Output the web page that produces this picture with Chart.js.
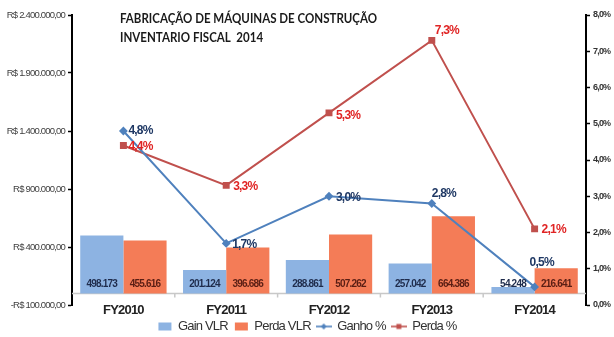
<!DOCTYPE html>
<html>
<head>
<meta charset="utf-8">
<script src="https://cdn.jsdelivr.net/npm/chart.js@4.4.1/dist/chart.umd.min.js"></script>
<style>
  html, body { margin: 0; padding: 0; background: #fff; }
  #wrap { position: relative; width: 614px; height: 337px; }
</style>
</head>
<body>
<div id="wrap"><canvas id="chart"></canvas></div>
<script>
const categories = ['FY2010', 'FY2011', 'FY2012', 'FY2013', 'FY2014'];
const gainVlr = [498173, 201124, 288861, 257042, 54248];
const perdaVlr = [455616, 396686, 507262, 664386, 216641];
const ganhoPct = [4.8, 1.7, 3.0, 2.8, 0.5];
const perdaPct = [4.4, 3.3, 5.3, 7.3, 2.1];
const seriesNames = ['Gain VLR', 'Perda VLR', 'Ganho %', 'Perda %'];
const titleLines = ['FABRICAÇÃO DE MÁQUINAS DE CONSTRUÇÃO', 'INVENTARIO FISCAL  2014'];

const FONT = "'Liberation Sans', Arial, sans-serif";
const BLUE_BAR = '#8db3e2';
const ORANGE_BAR = '#f47c57';
const BLUE_LINE = '#4f81bd';
const RED_LINE = '#c0504d';
const TIGHT = '-0.8px'; // squeeze letters to get a narrow look

// thousands with dots, decimals with comma
function fmtInt(n) {
    return String(Math.abs(Math.round(n))).replace(/\B(?=(\d{3})+(?!\d))/g, '.');
}
function fmtMoney(v) {
    return (v < 0 ? '-' : '') + 'R$ ' + fmtInt(v) + ',00';
}
function fmtPct(v) {
    return v.toFixed(1).replace('.', ',') + '%';
}

// small legend icons: filled box for bars, line with marker for lines
function legendIcon(kind, color) {
    const c = document.createElement('canvas');
    c.width = 16; c.height = 10;
    const g = c.getContext('2d');
    g.fillStyle = color;
    g.strokeStyle = color;
    if (kind === 'box') {
        g.fillRect(2, 1, 13, 8);
    } else {
        g.lineWidth = 1.6;
        g.beginPath(); g.moveTo(0, 5); g.lineTo(16, 5); g.stroke();
        g.beginPath();
        if (kind === 'diamond') {
            g.moveTo(8, 2); g.lineTo(11, 5); g.lineTo(8, 8); g.lineTo(5, 5);
        } else {
            g.rect(5.5, 2.5, 5, 5);
        }
        g.closePath(); g.fill();
    }
    return c;
}
const icons = [
    legendIcon('box', BLUE_BAR),
    legendIcon('box', ORANGE_BAR),
    legendIcon('diamond', BLUE_LINE),
    legendIcon('square', RED_LINE)
];

// tighter letter spacing for all chart text (set again after every resize)
const tightText = {
    id: 'tightText',
    beforeUpdate(chart) { chart.ctx.letterSpacing = TIGHT; },
    beforeDraw(chart) { chart.ctx.letterSpacing = TIGHT; }
};

// gray baseline at zero with separators between categories
const zeroLine = {
    id: 'zeroLine',
    beforeDatasetsDraw(chart) {
        const {ctx, chartArea, scales: {x, y}} = chart;
        const y0 = Math.round(y.getPixelForValue(0)) + 0.5;
        ctx.save();
        ctx.strokeStyle = '#c8c8c8';
        ctx.lineWidth = 1.5;
        ctx.beginPath();
        ctx.moveTo(chartArea.left, y0);
        ctx.lineTo(chartArea.right, y0);
        for (let i = 1; i < categories.length; i++) {
            const bx = (x.getPixelForTick(i - 1) + x.getPixelForTick(i)) / 2;
            ctx.moveTo(bx, y0);
            ctx.lineTo(bx, y0 + 4);
        }
        ctx.stroke();
        ctx.restore();
    }
};

// value labels for bars (bottom of bar) and for the percentage lines
const valueLabels = {
    id: 'valueLabels',
    afterDatasetsDraw(chart, args, opts) {
        const {ctx, scales: {y}} = chart;
        const base = y.getPixelForValue(0);
        ctx.save();
        ctx.textBaseline = 'middle';
        chart.data.datasets.forEach((ds, di) => {
            const meta = chart.getDatasetMeta(di);
            if (ds.type === 'bar') {
                ctx.font = 'bold 10px ' + FONT;
                ctx.textAlign = 'center';
                ctx.fillStyle = ds.labelColor;
                meta.data.forEach((el, i) => {
                    ctx.fillText(fmtInt(ds.data[i]), el.x, base - 9);
                });
            } else {
                const offs = opts.offsets[di];
                ctx.font = 'bold 12px ' + FONT;
                ctx.textAlign = 'left';
                ctx.fillStyle = ds.labelColor;
                meta.data.forEach((el, i) => {
                    ctx.fillText(fmtPct(ds.data[i]), el.x + offs[i][0], el.y + offs[i][1]);
                });
            }
        });
        ctx.restore();
    }
};

// two-line heading inside the plot
const heading = {
    id: 'heading',
    afterDraw(chart) {
        const ctx = chart.ctx;
        ctx.save();
        ctx.letterSpacing = '0px';
        ctx.font = "bold 14px Lato, 'Open Sans', sans-serif";
        ctx.fillStyle = '#1a1a1a';
        ctx.textBaseline = 'middle';
        ctx.textAlign = 'left';
        const sx = 257 / ctx.measureText(titleLines[0]).width;
        [18, 37].forEach((ty, i) => {
            ctx.save();
            ctx.translate(120, ty);
            ctx.scale(sx, 1);
            ctx.fillText(titleLines[i], 0, 0);
            ctx.restore();
        });
        ctx.restore();
    }
};

new Chart(document.getElementById('chart'), {
    data: {
        labels: categories,
        datasets: [{
            type: 'bar',
            label: seriesNames[0],
            data: gainVlr,
            backgroundColor: BLUE_BAR,
            labelColor: '#1f2c4c',
            yAxisID: 'y',
            order: 2,
            categoryPercentage: 0.84,
            barPercentage: 1
        }, {
            type: 'bar',
            label: seriesNames[1],
            data: perdaVlr,
            backgroundColor: ORANGE_BAR,
            labelColor: '#5a1e14',
            yAxisID: 'y',
            order: 2,
            categoryPercentage: 0.84,
            barPercentage: 1
        }, {
            type: 'line',
            label: seriesNames[2],
            data: ganhoPct,
            borderColor: BLUE_LINE,
            backgroundColor: BLUE_LINE,
            labelColor: '#1f3864',
            borderWidth: 2,
            pointStyle: 'rectRot',
            pointRadius: 3,
            yAxisID: 'y1',
            order: 1
        }, {
            type: 'line',
            label: seriesNames[3],
            data: perdaPct,
            borderColor: RED_LINE,
            backgroundColor: RED_LINE,
            labelColor: '#e02424',
            borderWidth: 2,
            pointStyle: 'rect',
            pointRadius: 3.5,
            yAxisID: 'y1',
            order: 1
        }]
    },
    options: {
        responsive: true,
        maintainAspectRatio: false,
        animation: false,
        layout: { padding: { top: 15, bottom: -6, left: 0, right: 0 } },
        plugins: {
            legend: {
                position: 'bottom',
                labels: {
                    usePointStyle: true,
                    pointStyleWidth: 14,
                    padding: 6,
                    color: '#333',
                    font: { family: FONT, size: 13 },
                    sort: (a, b) => a.datasetIndex - b.datasetIndex,
                    generateLabels(chart) {
                        const items = Chart.defaults.plugins.legend.labels.generateLabels(chart);
                        items.forEach(it => { it.pointStyle = icons[it.datasetIndex]; });
                        return items;
                    }
                }
            },
            tooltip: { enabled: false },
            valueLabels: {
                offsets: {
                    2: [[5, 0], [6, 1], [7, 1], [0, -10], [-5, -24]],
                    3: [[5, 1], [7, 1], [7, 3], [3, -10], [7, 1]]
                }
            }
        },
        scales: {
            x: {
                grid: { display: false, drawTicks: false },
                border: { display: false },
                ticks: {
                    padding: -2,
                    color: '#222',
                    font: { family: FONT, size: 13, weight: 'bold' }
                },
                afterFit(scale) { scale.height = 9; }
            },
            y: {
                position: 'left',
                min: -100000,
                max: 2400000,
                ticks: {
                    stepSize: 500000,
                    padding: 3,
                    color: '#404040',
                    font: { family: FONT, size: 9.5 },
                    callback: v => fmtMoney(v)
                },
                grid: { drawOnChartArea: false, color: '#000', tickLength: 4, tickWidth: 1.5 },
                border: { color: '#000', width: 2 },
                afterFit(scale) { scale.width = 72; }
            },
            y1: {
                position: 'right',
                min: 0,
                max: 8,
                ticks: {
                    stepSize: 1,
                    padding: 3,
                    color: '#333',
                    font: { family: FONT, size: 9, weight: 'bold' },
                    callback: v => fmtPct(v)
                },
                grid: { drawOnChartArea: false, color: '#000', tickLength: 4, tickWidth: 1.5 },
                border: { color: '#000', width: 2 },
                afterFit(scale) { scale.width = 28; }
            }
        }
    },
    plugins: [tightText, zeroLine, valueLabels, heading]
});
</script>
</body>
</html>
